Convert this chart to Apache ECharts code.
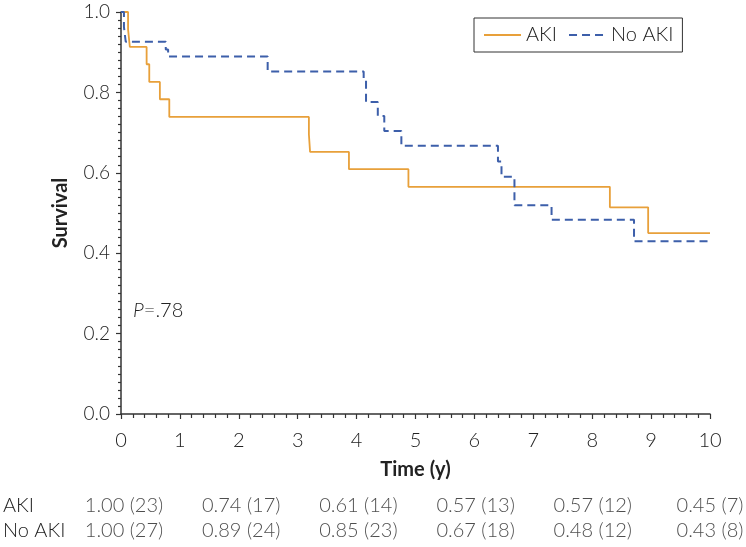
<!DOCTYPE html>
<html>
<head>
<meta charset="utf-8">
<script src="https://cdn.jsdelivr.net/npm/echarts@6/dist/echarts.min.js"></script>
<style>html,body{margin:0;padding:0;background:#fff;}#c{width:746px;height:547px;}</style>
</head>
<body>
<div id="c"></div>
<script>
// Kaplan–Meier curves (time in years, survival after event)
const akiTimes = [0, 0.12, 0.15, 0.435, 0.48, 0.66, 0.82, 3.19, 3.21, 3.87, 4.88, 8.30, 8.95, 10];
const akiSurv  = [1, 0.957, 0.913, 0.870, 0.826, 0.783, 0.739, 0.696, 0.652, 0.609, 0.565, 0.514, 0.450, 0.450];
const noAkiTimes = [0, 0.05, 0.08, 0.76, 0.80, 2.49, 4.12, 4.16, 4.36, 4.47, 4.76, 6.40, 6.46, 6.68, 7.31, 8.71, 10];
const noAkiSurv  = [1, 0.963, 0.926, 0.907, 0.889, 0.852, 0.833, 0.776, 0.741, 0.704, 0.667, 0.628, 0.590, 0.519, 0.483, 0.430, 0.430];

// Number-at-risk table
const tableTimes = [0, 2, 4, 6, 8, 10];
const rowNames = ['AKI', 'No AKI'];
const akiTableSurv = [1.00, 0.74, 0.61, 0.57, 0.57, 0.45];
const akiAtRisk = [23, 17, 14, 13, 12, 7];
const noAkiTableSurv = [1.00, 0.89, 0.85, 0.67, 0.48, 0.43];
const noAkiAtRisk = [27, 24, 23, 18, 12, 8];

const pText = '.78';

const FONT = 'Lato';
const ORANGE = '#E8A03A';
const BLUE = '#3D5FAA';
const TXT = '#222';

function pairs(t, s) { return t.map((x, i) => [x, s[i]]); }
function tableRow(name, surv, n) {
  return tableTimes.map((t, i) => ({ value: [t, name], label: { formatter: surv[i].toFixed(2) + ' (' + n[i] + ')' } }));
}

const chart = echarts.init(document.getElementById('c'));
chart.setOption({
  animation: false,
  textStyle: { fontFamily: FONT, fontWeight: 300, color: TXT },
  grid: [
    { left: 121, right: 36, top: 12, height: 402 },
    { left: 121, right: 36, top: 493, height: 50 }
  ],
  legend: {
    data: ['AKI', 'No AKI'],
    left: 474, top: 18,
    borderColor: '#333', borderWidth: 1,
    padding: [7, 9, 7, 9],
    itemGap: 11, itemWidth: 37, itemHeight: 14,
    itemStyle: { opacity: 0 },
    textStyle: { fontFamily: FONT, fontWeight: 300, fontSize: 20, color: TXT }
  },
  xAxis: [
    {
      type: 'value', gridIndex: 0, min: 0, max: 10, interval: 1, offset: 4,
      name: 'Time (y)', nameLocation: 'middle', nameGap: 42,
      nameTextStyle: { fontFamily: FONT, fontWeight: 'bold', fontSize: 20, color: TXT },
      axisLine: { show: true, lineStyle: { color: '#333', width: 1.5 } },
      axisTick: { show: true, length: 5, lineStyle: { color: '#333', width: 1.2 } },
      minorTick: { show: true, splitNumber: 5, length: 4, lineStyle: { color: '#333', width: 1.2 } },
      axisLabel: { fontFamily: FONT, fontWeight: 300, fontSize: 20, color: TXT, margin: 13 },
      splitLine: { show: false }
    },
    {
      type: 'value', gridIndex: 1, min: 0, max: 10, show: false
    }
  ],
  yAxis: [
    {
      type: 'value', gridIndex: 0, min: 0, max: 1, interval: 0.2,
      name: 'Survival', nameLocation: 'middle', nameGap: 50, nameRotate: 90,
      nameTextStyle: { fontFamily: FONT, fontWeight: 'bold', fontSize: 20, color: TXT },
      axisLine: { show: true, lineStyle: { color: '#333', width: 1.5 } },
      axisTick: { show: true, length: 5, lineStyle: { color: '#333', width: 1.2 } },
      minorTick: { show: true, splitNumber: 10, length: 3, lineStyle: { color: '#333', width: 1.2 } },
      axisLabel: { fontFamily: FONT, fontWeight: 300, fontSize: 19, color: TXT, margin: 11,
                   formatter: v => v.toFixed(1) },
      splitLine: { show: false }
    },
    {
      type: 'category', gridIndex: 1, data: rowNames, inverse: true,
      axisLine: { show: false }, axisTick: { show: false },
      axisLabel: { interval: 0, hideOverlap: false, fontFamily: FONT, fontWeight: 300, fontSize: 20, color: TXT, align: 'left', margin: 121 }
    }
  ],
  series: [
    {
      name: 'AKI', type: 'line', step: 'end', symbol: 'none',
      xAxisIndex: 0, yAxisIndex: 0,
      data: pairs(akiTimes, akiSurv),
      lineStyle: { color: ORANGE, width: 1.8 },
      itemStyle: { color: ORANGE }
    },
    {
      name: 'No AKI', type: 'line', step: 'end', symbol: 'none',
      xAxisIndex: 0, yAxisIndex: 0,
      data: pairs(noAkiTimes, noAkiSurv),
      lineStyle: { color: BLUE, width: 2, type: [8, 5] },
      itemStyle: { color: BLUE }
    },
    {
      type: 'scatter', xAxisIndex: 1, yAxisIndex: 1, symbolSize: 1,
      itemStyle: { color: 'rgba(0,0,0,0)' }, silent: true,
      label: { show: true, position: 'inside', fontFamily: FONT, fontWeight: 300, fontSize: 20, color: TXT },
      labelLayout: { hideOverlap: false },
      data: tableRow('AKI', akiTableSurv, akiAtRisk).concat(tableRow('No AKI', noAkiTableSurv, noAkiAtRisk))
    }
  ],
  graphic: [
    {
      type: 'text', left: 133, top: 301,
      style: {
        text: '{i|P}=' + pText,
        font: '300 20px ' + FONT, fill: TXT,
        rich: { i: { fontStyle: 'italic', fontFamily: FONT, fontWeight: 300, fontSize: 20, fill: TXT } }
      }
    }
  ]
});
</script>
</body>
</html>
